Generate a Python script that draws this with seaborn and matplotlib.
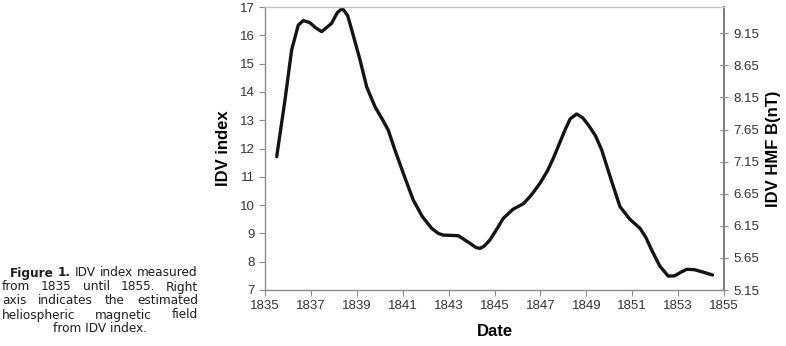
import pandas as pd
import matplotlib
matplotlib.use("Agg")
import matplotlib.pyplot as plt
import seaborn as sns

# values
years = [1835.51, 1835.87, 1836.16, 1836.45, 1836.67, 1836.95, 1837.2, 1837.47,
         1837.9, 1838.15, 1838.37, 1838.6, 1838.78, 1839.14, 1839.43, 1839.79,
         1840.1, 1840.37, 1840.66, 1841.1, 1841.46, 1841.85, 1842.26, 1842.55,
         1842.77, 1843.1, 1843.42, 1843.93, 1844.2, 1844.37, 1844.55, 1844.8,
         1845.1, 1845.38, 1845.8, 1846.26, 1846.6, 1846.98, 1847.3, 1847.56,
         1848.07, 1848.3, 1848.58, 1848.85, 1849.09, 1849.4, 1849.67, 1850.1,
         1850.47, 1850.9, 1851.34, 1851.6, 1851.85, 1852.2, 1852.57, 1852.85,
         1853.1, 1853.37, 1853.7, 1854.1, 1854.5]
idv = [11.71, 13.71, 15.48, 16.36, 16.52, 16.45, 16.27, 16.13,
       16.42, 16.8, 16.95, 16.7, 16.19, 15.13, 14.18, 13.48,
       13.05, 12.65, 11.95, 10.96, 10.18, 9.6, 9.18, 9.0,
       8.94, 8.93, 8.92, 8.65, 8.5, 8.47, 8.55, 8.77,
       9.15, 9.53, 9.85, 10.05, 10.35, 10.77, 11.2, 11.65,
       12.65, 13.05, 13.22, 13.08, 12.83, 12.45, 11.95, 10.85,
       9.94, 9.5, 9.18, 8.85, 8.41, 7.85, 7.49, 7.5,
       7.62, 7.73, 7.72, 7.63, 7.53]
x_ticks = list(range(1835, 1856, 2))
idv_ticks = list(range(7, 18))
hmf_ticks = [5.15, 5.65, 6.15, 6.65, 7.15, 7.65, 8.15, 8.65, 9.15]
hmf_per_idv = 0.441

caption = [
    [("Figure", True), ("1.", True), ("IDV", False), ("index", False), ("measured", False)],
    [("from", False), ("1835", False), ("until", False), ("1855.", False), ("Right", False)],
    [("axis", False), ("indicates", False), ("the", False), ("estimated", False)],
    [("heliospheric", False), ("magnetic", False), ("field", False)],
]
caption_last = "from IDV index."

sns.set_theme(style="white")
plt.rcParams['font.family'] = ['Liberation Sans', 'DejaVu Sans']

W, H = 786, 346
fig = plt.figure(figsize=(W / 100, H / 100), dpi=100)
ax = fig.add_axes([265 / W, 1 - 290 / H, (724 - 265) / W, (290 - 7) / H])

df = pd.DataFrame({"Date": years, "IDV": idv})
sns.lineplot(data=df, x="Date", y="IDV", ax=ax, color="#141414", lw=2.4)

grey = "#8c8c8c"
tickcol = "#333333"
ax.set_xlim(1835, 1855)
ax.set_ylim(7, 17)
ax.set_xticks(x_ticks)
ax.set_yticks(idv_ticks)
ax.tick_params(axis="both", colors=grey, labelcolor=tickcol, labelsize=9.5,
               length=4, width=0.8, direction="out", left=True, bottom=True)
ax.set_xlabel("Date", fontsize=12, fontweight="bold", labelpad=8, color="black")
ax.set_ylabel("IDV index", fontsize=12, fontweight="bold", labelpad=6, color="black")
for s in ax.spines.values():
    s.set_color(grey)
    s.set_linewidth(1.0)
ax.spines["top"].set_color("#c8c8c8")
ax.spines["right"].set_color("#7a7a7a")
ax.spines["right"].set_linewidth(1.4)

ax2 = ax.twinx()
ax2.set_ylim(5.15, 5.15 + 10 * hmf_per_idv)
ax2.set_yticks(hmf_ticks)
ax2.set_yticklabels([f"{t:.2f}" for t in hmf_ticks])
ax2.tick_params(axis="y", colors=grey, labelcolor=tickcol, labelsize=9.5,
                length=6, width=0.8, direction="inout", right=True)
ax2.set_ylabel("IDV HMF B(nT)", fontsize=12, fontweight="bold", labelpad=5, color="black")
ax2.grid(False)
for s in ax2.spines.values():
    s.set_visible(False)

# justified caption on the left
cap_font = ["DejaVu Sans"]
fs = 8.7
renderer = fig.canvas.get_renderer()
starts = [10, 2, 2, 2]
right = 198
ys = [273, 287, 301, 315]
for words, x0, yy in zip(caption, starts, ys):
    objs = []
    for w, b in words:
        t = fig.text(0, 1 - yy / H, w, fontsize=fs, family=cap_font,
                     fontweight="bold" if b else "normal", color="#1e1e1e",
                     va="center", ha="left")
        objs.append(t)
    widths = [o.get_window_extent(renderer).width for o in objs]
    gap = (right - x0 - sum(widths)) / (len(objs) - 1)
    x = x0
    for o, wd in zip(objs, widths):
        o.set_x(x / W)
        x += wd + gap
fig.text(100 / W, 1 - 329 / H, caption_last, fontsize=fs, family=cap_font,
         color="#1e1e1e", va="center", ha="center")

fig.savefig("out.png", dpi=100)
